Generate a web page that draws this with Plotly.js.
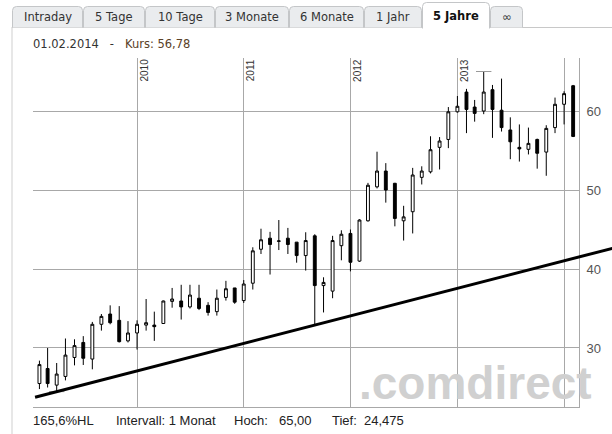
<!DOCTYPE html>
<html><head><meta charset="utf-8">
<script src="https://cdn.plot.ly/plotly-3.0.1.min.js"></script>
<style>html,body{margin:0;padding:0;background:#fff}#chart{width:612px;height:434px}</style>
</head><body><div id="chart"></div>
<script>
// ---- data ----
const months = ['2009-02-01','2009-03-01','2009-04-01','2009-05-01','2009-06-01','2009-07-01','2009-08-01','2009-09-01','2009-10-01','2009-11-01','2009-12-01',
'2010-01-01','2010-02-01','2010-03-01','2010-04-01','2010-05-01','2010-06-01','2010-07-01','2010-08-01','2010-09-01','2010-10-01','2010-11-01','2010-12-01',
'2011-01-01','2011-02-01','2011-03-01','2011-04-01','2011-05-01','2011-06-01','2011-07-01','2011-08-01','2011-09-01','2011-10-01','2011-11-01','2011-12-01',
'2012-01-01','2012-02-01','2012-03-01','2012-04-01','2012-05-01','2012-06-01','2012-07-01','2012-08-01','2012-09-01','2012-10-01','2012-11-01','2012-12-01',
'2013-01-01','2013-02-01','2013-03-01','2013-04-01','2013-05-01','2013-06-01','2013-07-01','2013-08-01','2013-09-01','2013-10-01','2013-11-01','2013-12-01',
'2014-01-01','2014-02-01'];
const openP  = [25.5,27.4,25.3,26.4,28.8,30.7,28.6,33.0,34.3,33.5,30.9,
31.9,32.9,32.9,33.1,35.9,35.95,35.2,36.3,35.4,34.6,36.4,37.6,
36.0,38.2,42.5,43.9,43.5,43.9,43.4,41.7,44.2,37.9,37.2,42.95,
44.5,41.0,46.1,50.4,52.4,50.85,46.1,47.25,51.6,52.3,55.4,56.4,
59.9,62.4,60.5,60.0,62.7,60.1,57.6,55.4,55.15,56.4,54.8,57.9,
60.85,63.2];
const highP  = [28.4,30.0,28.1,31.2,31.1,31.5,33.3,34.3,35.4,35.3,33.4,
33.5,36.2,34.6,36.0,37.6,38.0,38.0,38.0,35.8,37.4,38.5,37.6,
38.6,42.75,45.1,44.7,46.2,45.2,43.4,44.65,44.4,38.95,44.2,44.9,
45.0,46.3,50.9,54.85,53.4,50.9,48.0,52.8,53.0,56.8,56.7,60.5,
61.9,62.8,61.4,65.0,63.3,64.1,59.2,58.3,57.9,56.5,58.2,61.7,
62.5,63.3];
const lowP   = [24.8,25.0,24.475,25.9,27.8,27.85,27.3,32.2,33.0,30.7,30.7,
29.8,32.2,30.9,33.1,35.1,33.6,35.0,34.8,34.1,34.1,36.0,35.6,
35.7,37.4,41.9,39.3,42.4,41.9,40.8,39.8,32.9,34.5,36.3,41.1,
39.7,40.9,46.0,50.2,48.4,45.4,43.6,44.5,50.7,52.1,52.6,55.3,
59.8,57.2,58.65,59.6,56.6,57.4,53.9,53.6,54.5,52.7,51.8,57.2,
58.3,56.7];
const closeP = [27.9,25.5,26.7,29.1,30.3,28.7,33.0,34.0,33.2,30.8,31.9,
33.0,33.2,32.7,35.95,36.2,35.2,36.7,35.0,34.5,36.3,37.5,35.8,
38.1,42.3,43.7,43.1,43.55,43.1,41.7,43.6,37.9,38.3,43.6,44.4,
40.85,46.2,50.6,52.4,50.0,46.4,46.6,51.9,52.4,55.1,56.2,59.9,
60.6,60.2,59.7,62.4,60.2,57.9,56.1,55.2,55.9,54.65,57.8,60.85,
62.2,56.78];
const yearLabels = ['2010','2011','2012','2013'];
const yearDates  = ['2010-01-01','2011-01-01','2012-01-01','2013-01-01'];
const yTickVals  = [30,40,50,60];
const tabLabels  = ['Intraday','5 Tage','10 Tage','3 Monate','6 Monate','1 Jahr','5 Jahre','∞'];
const activeTab  = '5 Jahre';
const headerDate = '01.02.2014';
const headerKurs = 'Kurs: 56,78';
const footerTexts = ['165,6%HL','Intervall: 1 Monat','Hoch:','65,00','Tief:','24,475'];
const trendAnchorIdx = [2, 31];          // trend line drawn through these two lows
const trendSpan = ['2009-01-17','2014-06-15'];
const watermark = '.comdirect';

// ---- geometry ----
const W = 612, H = 434;
const M = {l:33, r:33, t:58, b:27};
const PW = W - M.l - M.r, PH = H - M.t - M.b;
const px2x = px => (px - M.l) / PW;
const py2y = py => (H - M.b - py) / PH;
const xRange = ['2009-01-10','2014-02-21'];
const yRange = [22.53, 66.71];
const ms = d => new Date(d + 'T00:00:00Z').getTime();
const date2paper = d => (ms(d) - ms(xRange[0])) / (ms(xRange[1]) - ms(xRange[0]));

// trend line from the two anchor lows
const tx0 = ms(months[trendAnchorIdx[0]]), tx1 = ms(months[trendAnchorIdx[1]]);
const ty0 = lowP[trendAnchorIdx[0]], ty1 = lowP[trendAnchorIdx[1]];
const trendAt = d => ty0 + (ms(d) - tx0) * (ty1 - ty0) / (tx1 - tx0);

const shapes = [];
const annotations = [];

// panel borders
shapes.push({type:'line', xref:'paper', yref:'paper', x0:px2x(12), x1:px2x(12), y0:py2y(27), y1:py2y(434), line:{color:'#cfcfcf', width:1}});
shapes.push({type:'line', xref:'paper', yref:'paper', x0:px2x(12), x1:px2x(612), y0:py2y(27.5), y1:py2y(27.5), line:{color:'#c8c8c8', width:1}});

// tabs
const tabEdges = [12,83,145,215,289,364,422,490,523];
function tabPath(x0, x1, top, bottom, r) {
  const p = (x,y) => px2x(x) + ',' + py2y(y);
  return 'M' + p(x0,bottom) + ' L' + p(x0,top+r) + ' Q' + p(x0,top) + ' ' + p(x0+r,top) +
         ' L' + p(x1-r,top) + ' Q' + p(x1,top) + ' ' + p(x1,top+r) + ' L' + p(x1,bottom);
}
tabLabels.forEach((lab, i) => {
  const x0 = tabEdges[i] + 0.5, x1 = tabEdges[i+1] - 0.5;
  const active = lab === activeTab;
  shapes.push({type:'path', xref:'paper', yref:'paper',
    path: tabPath(x0, x1, active ? 2.5 : 6.5, active ? 28.5 : 27.5, 4),
    fillcolor: active ? '#ffffff' : '#eaecee', line:{color:'#c4c6c8', width:1}});
  annotations.push({xref:'paper', yref:'paper', x:px2x((x0+x1)/2), y:py2y(active ? 16 : 17),
    text: active ? '<b>' + lab + '</b>' : lab, showarrow:false, xanchor:'center', yanchor:'middle',
    font:{family:'DejaVu Sans, Verdana, sans-serif', size:11.5, color: active ? '#111' : '#333'}});
});

// header
annotations.push({xref:'paper', yref:'paper', x:px2x(31), y:py2y(44), xanchor:'left', yanchor:'middle', showarrow:false,
  text: '<span style="color:#333">' + headerDate + '</span>&nbsp;&nbsp; - &nbsp;&nbsp;<span style="color:#5a4128">' + headerKurs + '</span>',
  font:{family:'DejaVu Sans, Verdana, sans-serif', size:11.5, color:'#333'}});

// year labels
yearLabels.forEach((lab, i) => {
  annotations.push({xref:'paper', yref:'paper', x:date2paper(yearDates[i]), y:py2y(70), xanchor:'center', yanchor:'middle',
    xshift:6.5, textangle:-90, text:lab, showarrow:false, font:{family:'Liberation Sans, Arial, sans-serif', size:10, color:'#333'}});
});

// footer
const footerX = [31,114,232,277,330,362];
footerTexts.forEach((t, i) => {
  annotations.push({xref:'paper', yref:'paper', x:px2x(footerX[i]), y:py2y(420), xanchor:'left', yanchor:'middle',
    text:t, showarrow:false, font:{family:'Liberation Sans, Arial, sans-serif', size:13, color:'#222'}});
});

// watermark
annotations.push({xref:'paper', yref:'paper', x:px2x(358), y:py2y(410), xanchor:'left', yanchor:'bottom', borderpad:0,
  text:watermark, showarrow:false, font:{family:'Liberation Sans, Arial, sans-serif', size:46, weight:'bold', color:'#d0d0d0'}});

// trend line (extends past the plot's right edge like the reference)
shapes.push({type:'line', xref:'paper', yref:'y',
  x0:date2paper(trendSpan[0]), x1:date2paper(trendSpan[1]),
  y0:trendAt(trendSpan[0]), y1:trendAt(trendSpan[1]),
  line:{color:'#000', width:3}});

// high / low markers
const hiVal = Math.max(...highP), loVal = Math.min(...lowP);
const hiIdx = highP.indexOf(hiVal), loIdx = lowP.indexOf(loVal);

const traces = [
  {type:'candlestick', x:months, open:openP, high:highP, low:lowP, close:closeP,
   increasing:{line:{color:'#000', width:1}, fillcolor:'#ffffff'},
   decreasing:{line:{color:'#000', width:1}, fillcolor:'#000000'},
   whiskerwidth:0, hoverinfo:'skip', showlegend:false},
  {type:'scatter', mode:'markers', x:[months[hiIdx], months[loIdx]], y:[hiVal, loVal],
   marker:{symbol:'line-ew', size:11, color:'#999', line:{color:'#999', width:1}},
   hoverinfo:'skip', showlegend:false}
];

const layout = {
  width:W, height:H, margin:M,
  paper_bgcolor:'#fff', plot_bgcolor:'#fff',
  showlegend:false, boxgap:0.5,
  xaxis:{type:'date', range:xRange, tick0:'2010-01-01', dtick:'M12', showgrid:true, gridcolor:'#a8a8a8', gridwidth:1,
         showticklabels:false, ticks:'', showline:true, linecolor:'#a8a8a8', zeroline:false,
         rangeslider:{visible:false}, fixedrange:true},
  yaxis:{range:yRange, side:'right', tickvals:yTickVals, showgrid:true, gridcolor:'#a8a8a8', gridwidth:1,
         showline:true, linecolor:'#a8a8a8', ticks:'', ticklabelstandoff:4, zeroline:false,
         tickfont:{family:'Liberation Sans, Arial, sans-serif', size:13, color:'#555'}, fixedrange:true},
  shapes:shapes, annotations:annotations, hovermode:false
};

Plotly.newPlot('chart', traces, layout, {displayModeBar:false, staticPlot:true});
</script>
</body></html>
